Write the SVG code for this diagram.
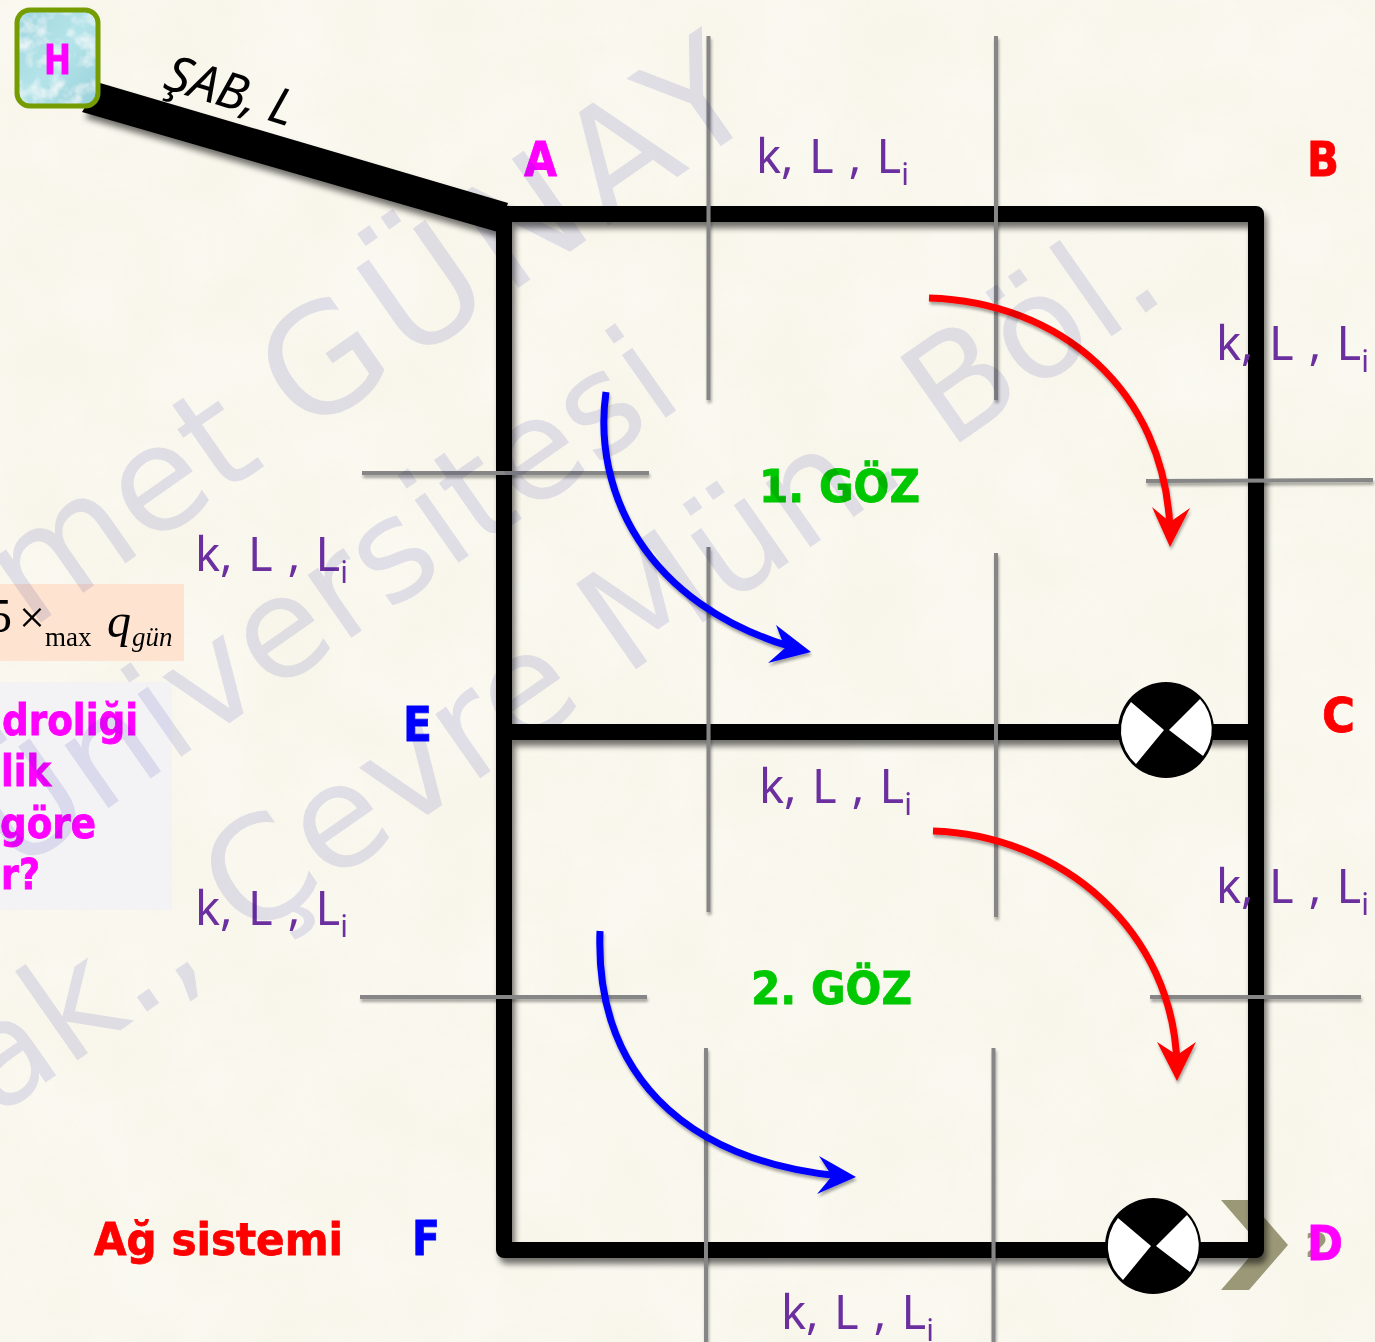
<svg xmlns="http://www.w3.org/2000/svg" width="1375" height="1342" viewBox="0 0 1375 1342">
<defs>
<style>
.wm{font-family:"DejaVu Sans",sans-serif;fill:#e5e5f6;mix-blend-mode:multiply}
.lbl{font-family:"Noto Sans","Open Sans",sans-serif;font-size:47px;fill:#6b2fa0;word-spacing:3px}
.sub{font-size:30px}
.b{font-family:"DejaVu Sans",sans-serif;font-weight:700;stroke-width:0.8px}
.mg{fill:#ff00ff;stroke:#ff00ff}
.rd{fill:#ff0000;stroke:#ff0000}
.bl{fill:#0000ff;stroke:#0000ff}
.gr{fill:#00c800;stroke:#00c800}
.tick{stroke:#868686;stroke-width:4;fill:none}
.pipe{stroke:#000;stroke-width:16;fill:none;stroke-linejoin:round;stroke-linecap:round}
.ser{font-family:"Liberation Serif",serif;fill:#000}
</style>
<filter id="sh" x="-10%" y="-10%" width="120%" height="120%"><feGaussianBlur in="SourceAlpha" stdDeviation="3"/><feOffset dx="3" dy="6"/><feComponentTransfer><feFuncA type="linear" slope="0.55"/></feComponentTransfer><feMerge><feMergeNode/><feMergeNode in="SourceGraphic"/></feMerge></filter>
<filter id="sh2" x="-10%" y="-10%" width="120%" height="120%"><feGaussianBlur in="SourceAlpha" stdDeviation="1.500"/><feOffset dx="1" dy="3"/><feComponentTransfer><feFuncA type="linear" slope="0.35"/></feComponentTransfer><feMerge><feMergeNode/><feMergeNode in="SourceGraphic"/></feMerge></filter>
<filter id="mottle" x="0" y="0" width="100%" height="100%"><feTurbulence type="fractalNoise" baseFrequency="0.012" numOctaves="3" seed="4"/><feColorMatrix values="0 0 0 0 1 0 0 0 0 1 0 0 0 0 1 1.600 0 0 0 -0.350"/></filter>
<filter id="ice" x="0" y="0" width="100%" height="100%"><feTurbulence type="fractalNoise" baseFrequency="0.06" numOctaves="3" seed="9"/><feColorMatrix values="0 0 0 0 1 0 0 0 0 1 0 0 0 0 1 1.800 0 0 0 -0.800"/><feComposite in2="SourceGraphic" operator="in" result="t"/><feMerge><feMergeNode in="SourceGraphic"/><feMergeNode in="t"/></feMerge></filter>
<linearGradient id="water" x1="0" y1="0" x2="1" y2="1"><stop offset="0" stop-color="#a0d6df"/><stop offset="0.5" stop-color="#b4e4e9"/><stop offset="1" stop-color="#98d0da"/></linearGradient>
<g id="valve"><circle r="48" fill="#000"/><path d="M-2 0L-35-28A45 45 0 0 0-30 34Z M3 0L34-31A45 45 0 0 1 37 26Z" fill="#fff"/></g>
</defs>
<rect width="1375" height="1342" fill="#f8f6ea"/>
<rect width="1375" height="1342" filter="url(#mottle)" opacity="0.35"/>
<rect id="box-formula" x="0" y="584" width="184" height="77" fill="#fde3d0"/>
<rect id="box-question" x="0" y="682" width="172" height="228" fill="#f3f3f5"/>
<g id="formula">
<text class="ser" x="-12" y="632" font-size="48">5</text>
<text class="ser" x="19" y="633" font-size="46">×</text>
<text class="ser" x="45" y="646" font-size="27">max</text>
<text class="ser" x="107" y="637" font-size="48" font-style="italic">q</text>
<text class="ser" x="132" y="646" font-size="27" font-style="italic">gün</text>
</g>
<g id="question" class="b mg" font-size="42">
<text x="2" y="735" textLength="136" lengthAdjust="spacingAndGlyphs">droliği</text>
<text x="1" y="786" textLength="50" lengthAdjust="spacingAndGlyphs">lik</text>
<text x="0" y="838" textLength="96" lengthAdjust="spacingAndGlyphs">göre</text>
<text x="1" y="889" textLength="39" lengthAdjust="spacingAndGlyphs">r?</text>
</g>
<path id="chevron" d="M1221 1200H1249L1288 1245L1249 1290H1221L1260 1245Z" fill="#9b9878"/>
<g id="connectors">
<g id="pipes" filter="url(#sh)">
<path d="M82 112L100 83L508 203L498 232Z" fill="#000"/>
<path class="pipe" d="M504 214H1256V1250H504ZM504 732H1256"/>
</g>
<g id="ticks" filter="url(#sh2)">
<path class="tick" d="M708.500 36V400M996 36V400M362 473H649M1146 481L1373 480M708.500 547V912M996 553V917M360 997H647M1150 997H1361M706 1048V1342M993.500 1048V1342"/>
</g>
<g id="flow-arrows" fill="none" stroke-width="7" filter="url(#sh2)">
<path d="M929 298C1060 302 1165 390 1170 530" stroke="#ff0000"/>
<path d="M1152 507L1170 547L1190 508L1170 522Z" fill="#ff0000"/>
<path d="M606 392C592 490 645 605 795 648" stroke="#0000ff"/>
<path d="M776 625L811 652L768 663L785 648Z" fill="#0000ff"/>
<path d="M933 831C1060 835 1175 930 1177 1068" stroke="#ff0000"/>
<path d="M1157 1042L1177 1081L1196 1042L1177 1055Z" fill="#ff0000"/>
<path d="M600 931C595 1070 680 1160 840 1176" stroke="#0000ff"/>
<path d="M819 1156L856 1177L817 1194L832 1176Z" fill="#0000ff"/>
</g>
</g>
<g id="node-H">
<rect x="17" y="10" width="81" height="96" rx="13" fill="url(#water)" filter="url(#ice)"/>
<rect x="17" y="10" width="81" height="96" rx="13" fill="none" stroke="#759c00" stroke-width="5"/>
<text class="b mg" x="44" y="74" font-size="41" textLength="27" lengthAdjust="spacingAndGlyphs">H</text>
</g>
<text id="label-sab" transform="translate(162 88) rotate(17)" font-family="Noto Sans,Open Sans,sans-serif" font-size="50" font-style="italic" fill="#000">ŞAB, L</text>
<g id="valve-1"><use href="#valve" x="1166" y="730"/></g>
<g id="valve-2"><use href="#valve" x="1153" y="1246"/></g>
<text id="label-2" class="b" x="1305" y="1257" font-size="34" fill="#9b9878">2</text>
<g id="node-labels" class="b" font-size="48">
<text class="mg" x="524" y="176" textLength="33" lengthAdjust="spacingAndGlyphs">A</text>
<text class="rd" x="1307" y="176" textLength="32" lengthAdjust="spacingAndGlyphs">B</text>
<text class="rd" x="1322" y="732" textLength="33" lengthAdjust="spacingAndGlyphs">C</text>
<text class="mg" x="1307" y="1260" textLength="36" lengthAdjust="spacingAndGlyphs">D</text>
<text class="bl" x="403" y="741" textLength="29" lengthAdjust="spacingAndGlyphs">E</text>
<text class="bl" x="412" y="1255" textLength="28" lengthAdjust="spacingAndGlyphs">F</text>
</g>
<g id="pipe-labels" class="lbl">
<text x="756" y="173">k, L , L<tspan class="sub" dy="12">i</tspan></text>
<text x="1216" y="360">k, L , L<tspan class="sub" dy="12">i</tspan></text>
<text x="195" y="571">k, L , L<tspan class="sub" dy="12">i</tspan></text>
<text x="759" y="803">k, L , L<tspan class="sub" dy="12">i</tspan></text>
<text x="1216" y="903">k, L , L<tspan class="sub" dy="12">i</tspan></text>
<text x="195" y="925">k, L , L<tspan class="sub" dy="12">i</tspan></text>
<text x="781" y="1329">k, L , L<tspan class="sub" dy="12">i</tspan></text>
</g>
<g id="cell-labels" class="b gr" font-size="44">
<text x="759" y="502" textLength="161" lengthAdjust="spacingAndGlyphs">1. GÖZ</text>
<text x="751" y="1004" textLength="161" lengthAdjust="spacingAndGlyphs">2. GÖZ</text>
</g>
<text id="title" class="b rd" x="94" y="1255" font-size="45" textLength="249" lengthAdjust="spacingAndGlyphs">Ağ sistemi</text>
<g id="watermark">
<text class="wm" font-size="146" transform="translate(30 630) rotate(-35)">met <tspan font-size="150" letter-spacing="10">GÜNAY</tspan></text>
<text class="wm" font-size="140" transform="translate(14 874) rotate(-35)">Üniversitesi</text>
<text class="wm" font-size="143" transform="translate(-5 1118) rotate(-35)">ak., Çevre Mün. Böl.</text>
</g>
</svg>
